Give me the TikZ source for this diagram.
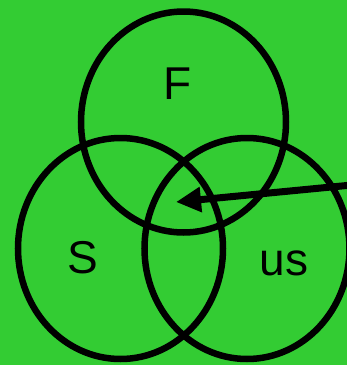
\documentclass[tikz,border=0pt]{standalone}
\usepackage{fontspec}
\setmainfont{Liberation Sans}
\usetikzlibrary{arrows.meta}
\definecolor{bggreen}{HTML}{33CC33}
\begin{document}
\begin{tikzpicture}[x=1pt,y=-1pt,
  ring/.style={draw=black,line width=6.5pt},
  lbl/.style={inner sep=0pt,anchor=base,font=\fontsize{46}{50}\selectfont},
  pointer/.style={draw=black,line width=7pt,-{Triangle[length=25pt,width=24pt]}}]
\fill[bggreen] (0,0) rectangle (347,365);
\useasboundingbox (0,0) rectangle (347,365);
\begin{scope}
\clip (0,0) rectangle (347,365);
\draw[ring] (183.5,122) ellipse [x radius=102.5, y radius=110.5];
\draw[ring] (120.5,248.5) ellipse [x radius=102.5, y radius=110.5];
\draw[ring] (247,248.5) ellipse [x radius=102.5, y radius=110.5];
\node[lbl] (F) at (178,99) {F};
\node[lbl] (S) at (83,273) {S};
\node[lbl] (us) at (284,275) {us};
\coordinate (start) at (352,185);
\coordinate (tip) at (176,202);
\draw[pointer] (start) -- (tip);
\end{scope}
\end{tikzpicture}
\end{document}
